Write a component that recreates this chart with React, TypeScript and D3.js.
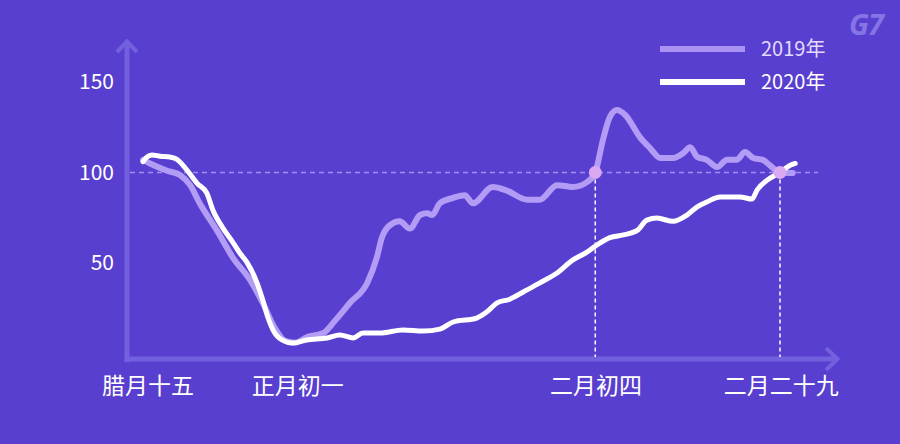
import React from "react";
import * as d3 from "d3";

// ---------- data ----------
const xTickLabels = ["腊月十五", "正月初一", "二月初四", "二月二十九"];
const xTickPositions = [0.8, 24.3, 71.1, 100.2];
const yTicks = [50, 100, 150];
const seriesNames = ["2019年", "2020年"];
const markerDays = [71, 100];
const referenceValue = 100;

const days2019 = [0, 1.1, 3.8, 5.8, 7.4, 8.9, 11.6, 14.1, 16.8, 18.8, 20.7, 22.3, 23.9, 25.7, 28.3, 30.1, 32.5, 35.2, 36.7, 37.5, 38.8, 40.3, 41.9, 43.5, 44.6, 45.4, 46.6, 48.7, 50.5, 51.8, 54.9, 57.1, 60.3, 62.3, 65.0, 67.5, 69.7, 71.0, 72.2, 73.3, 74.4, 75.7, 78.0, 79.6, 81.2, 83.2, 84.8, 85.9, 87.0, 88.5, 90.1, 91.7, 93.2, 94.5, 95.8, 97.3, 98.4, 100, 102];
const values2019 = [107, 105, 101, 98.6, 93, 83, 68, 53, 40.6, 28, 14, 7, 6, 9, 11.3, 18, 28, 39, 53, 64, 71, 73, 69, 76.5, 77.5, 76.5, 83, 86, 87.5, 83, 92, 90, 85, 85, 93, 92, 94.7, 100, 118, 130.7, 134.5, 131.8, 119.6, 113.5, 108, 108, 110.7, 114, 108.6, 107, 103, 107, 107, 111.3, 108, 107, 104, 100, 99.7];

const days2020 = [0, 0.6, 1.4, 2.7, 4.2, 5.2, 5.8, 7.4, 8.5, 10.0, 11.0, 12.6, 14.0, 15.2, 16.3, 17.9, 18.8, 19.6, 20.4, 21.8, 23.5, 25.7, 28.9, 30.9, 33.0, 34.5, 37.2, 40.8, 44.0, 46.6, 48.7, 52.4, 54.0, 55.6, 57.6, 59.7, 62.3, 65.0, 67.5, 69.7, 71.7, 73.3, 75.4, 77.6, 79.1, 80.7, 83.2, 85.4, 87.0, 88.5, 90.6, 93.7, 95.6, 96.4, 98.0, 100, 101.6, 102.4];
const values2020 = [106, 108.5, 109.7, 109, 108.6, 107.5, 105.8, 99, 94, 88.7, 79, 69, 62, 55.5, 50.5, 39, 29.5, 20, 13, 7.5, 5.8, 7.5, 8.6, 10.2, 8.6, 11.3, 11.3, 13, 12.4, 13.5, 17.4, 19.6, 23, 28, 30, 34, 39, 44.5, 51.7, 56, 61, 64, 65.5, 68, 73.7, 74.8, 73, 76.5, 81, 83.7, 86.5, 86.5, 85.3, 90.3, 95.8, 100, 104, 105];

// ---------- styles ----------
const W = 900;
const H = 444;
const BG = "#593fcf";
const AXIS = "#7360de";
const C2019 = "#b29cf5";
const C2020 = "#ffffff";
const DOT = "#dba8f2";
const FONT = "'Noto Sans CJK SC', 'Noto Sans', sans-serif";

export default function App() {
  const x = d3.scaleLinear().domain([0, 100]).range([143, 780]);
  const y = d3.scaleLinear().domain([0, 150]).range([353.5, 82]);

  const line = d3
    .line<[number, number]>()
    .x((d) => x(d[0]))
    .y((d) => y(d[1]))
    .curve(d3.curveMonotoneX);

  const pts2019: [number, number][] = days2019.map((d, i) => [d, values2019[i]]);
  const pts2020: [number, number][] = days2020.map((d, i) => [d, values2020[i]]);

  const axisX0 = 127;
  const axisY0 = 359;

  return (
    <svg
      width={W}
      height={H}
      style={{ position: "absolute", left: 0, top: 0, display: "block" }}
    >
      <rect x={0} y={0} width={W} height={H} fill={BG} />

      {/* logo */}
      <text
        x={866}
        y={35}
        textAnchor="middle"
        fontFamily="'Noto Sans', sans-serif"
        fontStyle="italic"
        fontWeight={700}
        fontSize={29}
        fill="#8574e6"
        letterSpacing={-1}
      >
        G7
      </text>

      {/* axes */}
      <line x1={axisX0} y1={44} x2={axisX0} y2={362} stroke={AXIS} strokeWidth={5} />
      <line x1={124.5} y1={axisY0} x2={836} y2={axisY0} stroke={AXIS} strokeWidth={5} />
      <polyline
        points={`${axisX0 - 10},52 ${axisX0},41.5 ${axisX0 + 10},52`}
        fill="none"
        stroke={AXIS}
        strokeWidth={4}
      />
      <polyline
        points={`826,348 837.5,${axisY0} 826,370`}
        fill="none"
        stroke={AXIS}
        strokeWidth={4}
      />

      {/* reference line */}
      <line
        x1={130}
        x2={818}
        y1={y(referenceValue)}
        y2={y(referenceValue)}
        stroke="#a08ef0"
        strokeWidth={1.5}
        strokeDasharray="5 4"
      />
      {markerDays.map((d) => (
        <line
          key={"v" + d}
          x1={x(d)}
          x2={x(d)}
          y1={y(referenceValue)}
          y2={357}
          stroke="#ffffff"
          strokeWidth={1.5}
          strokeDasharray="4 3"
        />
      ))}

      {/* y tick labels */}
      {yTicks.map((t) => (
        <text
          key={t}
          x={114}
          y={y(t)}
          dy="0.35em"
          textAnchor="end"
          fontFamily={FONT}
          fontSize={21}
          fill="#ffffff"
        >
          {t}
        </text>
      ))}

      {/* x tick labels */}
      {xTickLabels.map((lab, i) => (
        <text
          key={lab}
          x={x(xTickPositions[i])}
          y={386}
          dy="0.35em"
          textAnchor="middle"
          fontFamily={FONT}
          fontSize={23}
          fill="#ffffff"
        >
          {lab}
        </text>
      ))}

      {/* series */}
      <path
        d={line(pts2019) || ""}
        fill="none"
        stroke={C2019}
        strokeWidth={6}
        strokeLinejoin="round"
        strokeLinecap="round"
      />
      <path
        d={line(pts2020) || ""}
        fill="none"
        stroke={C2020}
        strokeWidth={5}
        strokeLinejoin="round"
        strokeLinecap="round"
      />

      {/* markers */}
      {markerDays.map((d) => (
        <circle key={"c" + d} cx={x(d)} cy={y(referenceValue)} r={6.5} fill={DOT} />
      ))}

      {/* legend */}
      <line x1={660} x2={745} y1={49} y2={49} stroke={C2019} strokeWidth={6} opacity={0.9} />
      <text x={761} y={49} dy="0.35em" fontFamily={FONT} fontSize={20} fill="#e2dbff">
        {seriesNames[0]}
      </text>
      <line x1={660} x2={745} y1={82} y2={82} stroke={C2020} strokeWidth={6} />
      <text x={761} y={82} dy="0.35em" fontFamily={FONT} fontSize={20} fill="#ffffff">
        {seriesNames[1]}
      </text>
    </svg>
  );
}
